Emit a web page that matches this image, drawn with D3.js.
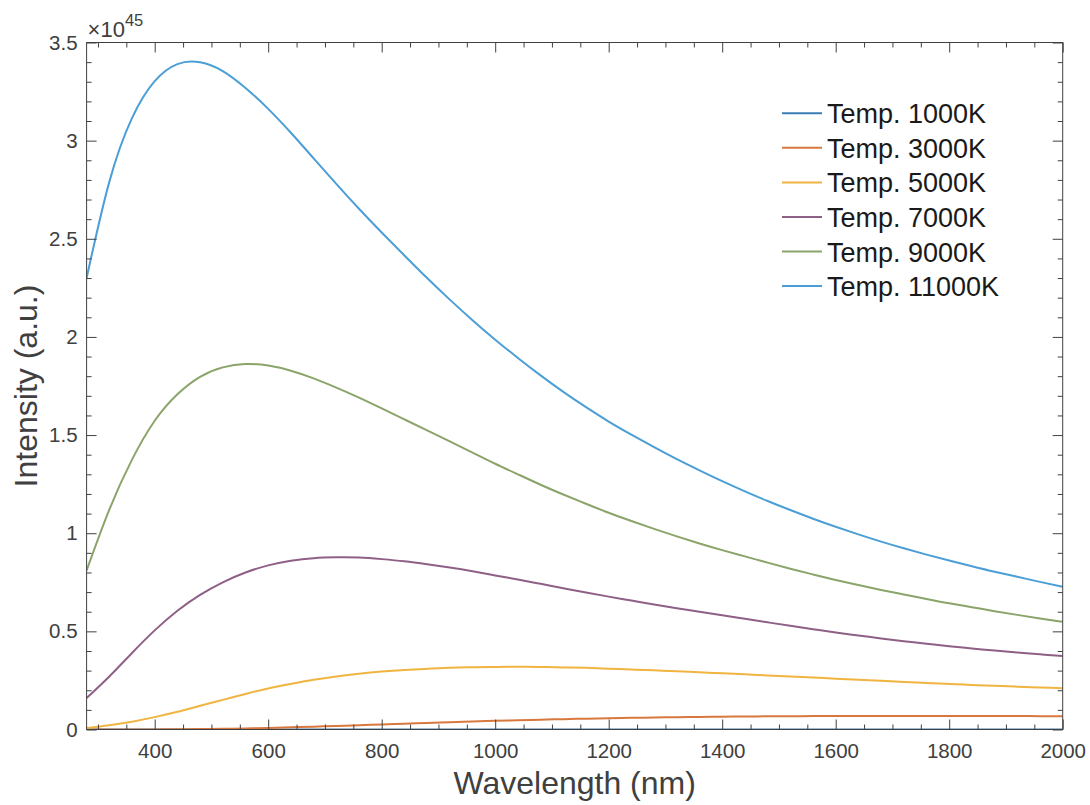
<!DOCTYPE html>
<html>
<head>
<meta charset="utf-8">
<script src="https://cdn.jsdelivr.net/npm/d3@7"></script>
<style>
  html, body { margin: 0; padding: 0; background: #ffffff; }
  svg { display: block; font-family: "Liberation Sans", Arial, Helvetica, sans-serif; }
</style>
</head>
<body>
<svg id="chart" width="1090" height="805"></svg>
<script>
// Spectral intensity (units of 1e45, a.u.) versus wavelength in nm, sampled every 40 nm
const wavelengths = [280, 320, 360, 400, 440, 480, 520, 560, 600, 640, 680, 720, 760, 800, 840, 880, 920, 960,
                     1000, 1040, 1080, 1120, 1160, 1200, 1240, 1280, 1320, 1360, 1400, 1440, 1480, 1520, 1560,
                     1600, 1640, 1680, 1720, 1760, 1800, 1840, 1880, 1920, 1960, 2000];

const temp1000K  = [0, 0, 0, 0, 0, 0, 0, 0, 0, 0, 0, 0, 0, 0, 0, 0, 0, 0,
                    0.00001, 0.00001, 0.00002, 0.00002, 0.00003, 0.00003, 0.00004, 0.00005, 0.00006, 0.00007, 0.00008,
                    0.0001, 0.00011, 0.00013, 0.00015, 0.00017, 0.0002, 0.00022, 0.00025, 0.00028, 0.00031, 0.00034,
                    0.00038, 0.00041, 0.00045, 0.0005];
const temp3000K  = [0, 0.0001, 0.0002, 0.0005, 0.0011, 0.0021, 0.0036, 0.0056, 0.0082, 0.0112, 0.0146, 0.0182,
                    0.022, 0.026, 0.0298, 0.0336, 0.0373, 0.0408, 0.0441, 0.0472, 0.05, 0.0527, 0.0551, 0.0573,
                    0.0593, 0.061, 0.0626, 0.064, 0.0652, 0.0662, 0.0671, 0.0678, 0.0684, 0.0688, 0.0691, 0.0693,
                    0.0694, 0.0694, 0.0693, 0.0691, 0.0688, 0.0685, 0.0681, 0.0677];
const temp5000K  = [0.008, 0.022, 0.04, 0.063, 0.09, 0.121, 0.151, 0.181, 0.209, 0.232, 0.253, 0.27, 0.284,
                    0.295, 0.303, 0.309, 0.314, 0.317, 0.319, 0.3195, 0.3185, 0.3165, 0.314, 0.31, 0.3058, 0.3013,
                    0.2966, 0.2916, 0.2865, 0.281, 0.2755, 0.27, 0.2645, 0.259, 0.2535, 0.248, 0.2425, 0.2372,
                    0.232, 0.2272, 0.2225, 0.218, 0.214, 0.21];
const temp7000K  = [0.16, 0.27, 0.39, 0.505, 0.605, 0.686, 0.75, 0.8, 0.836, 0.86, 0.873, 0.877, 0.876, 0.868,
                    0.857, 0.842, 0.825, 0.806, 0.785, 0.764, 0.742, 0.72, 0.698, 0.677, 0.657, 0.637, 0.618, 0.6,
                    0.582, 0.564, 0.546, 0.528, 0.511, 0.494, 0.479, 0.464, 0.45, 0.437, 0.424, 0.413, 0.402,
                    0.392, 0.383, 0.374];
const temp9000K  = [0.81, 1.12, 1.375, 1.573, 1.708, 1.797, 1.845, 1.862, 1.854, 1.828, 1.789, 1.742, 1.691,
                    1.636, 1.58, 1.524, 1.468, 1.411, 1.354, 1.3, 1.247, 1.197, 1.15, 1.104, 1.062, 1.022, 0.984,
                    0.948, 0.914, 0.882, 0.85, 0.819, 0.79, 0.762, 0.736, 0.711, 0.688, 0.665, 0.643, 0.623,
                    0.603, 0.584, 0.566, 0.549];
const temp11000K = [2.30, 2.79, 3.115, 3.303, 3.39, 3.399, 3.354, 3.268, 3.162, 3.04, 2.91, 2.78, 2.653, 2.532,
                    2.415, 2.30, 2.19, 2.085, 1.986, 1.893, 1.804, 1.72, 1.642, 1.569, 1.502, 1.438, 1.377, 1.32,
                    1.265, 1.213, 1.164, 1.118, 1.074, 1.033, 0.994, 0.957, 0.923, 0.891, 0.861, 0.832, 0.804,
                    0.778, 0.752, 0.727];

const seriesNames  = ["Temp. 1000K", "Temp. 3000K", "Temp. 5000K", "Temp. 7000K", "Temp. 9000K", "Temp. 11000K"];
const seriesValues = [temp1000K, temp3000K, temp5000K, temp7000K, temp9000K, temp11000K];
const seriesColors = ["#3a7cb4", "#d8783e", "#f0b440", "#8f6086", "#8ba46a", "#4b9fd6"];

const xTickValues  = [400, 600, 800, 1000, 1200, 1400, 1600, 1800, 2000];
const yTickValues  = [0, 0.5, 1, 1.5, 2, 2.5, 3, 3.5];
const yTickLabels  = ["0", "0.5", "1", "1.5", "2", "2.5", "3", "3.5"];
const xDomain = [280, 2000];
const yDomain = [0, 3.5];
const exponentBase = "\u00D710";
const exponentPower = "45";
const xTitle = "Wavelength (nm)";
const yTitle = "Intensity (a.u.)";

// Layout
const plot = { left: 86.6, right: 1062.7, top: 42.5, bottom: 729.5 };
const axisColor = "#404040";
const majorLen = 10, minorLen = 5;

const svg = d3.select("#chart");
const x = d3.scaleLinear().domain(xDomain).range([plot.left, plot.right]);
const y = d3.scaleLinear().domain(yDomain).range([plot.bottom, plot.top]);

const xMinor = d3.range(300, 2001, 50).filter(v => !xTickValues.includes(v));
const yMinor = d3.range(1, 35).map(i => i / 10).filter(v => !yTickValues.some(t => Math.abs(t - v) < 1e-9));

svg.append("defs").append("clipPath").attr("id", "plotClip")
  .append("rect")
  .attr("x", plot.left).attr("y", plot.top)
  .attr("width", plot.right - plot.left).attr("height", plot.bottom - plot.top);

// Data lines (smooth spline through the sampled values)
const line = d3.line()
  .x(d => x(d[0]))
  .y(d => y(d[1]))
  .curve(d3.curveNatural);

const lines = svg.append("g").attr("clip-path", "url(#plotClip)");
seriesValues.forEach((vals, i) => {
  lines.append("path")
    .datum(wavelengths.map((w, j) => [w, vals[j]]))
    .attr("fill", "none")
    .attr("stroke", seriesColors[i])
    .attr("stroke-width", 2)
    .attr("stroke-linejoin", "round")
    .attr("d", line);
});

// Axes: ticks pointing inward on all four sides (boxed frame)
function styleAxis(g) {
  g.select(".domain").remove();
  g.selectAll(".tick line").attr("stroke", axisColor).attr("stroke-width", 1);
  g.selectAll(".tick text")
    .attr("fill", axisColor)
    .style("font-size", "20.5px")
    .style("font-family", "'Liberation Sans', Arial, Helvetica, sans-serif");
}

// bottom (labels) and top
svg.append("g").attr("transform", `translate(0,${plot.bottom})`)
  .call(d3.axisBottom(x).tickValues(xTickValues).tickSize(-majorLen).tickFormat(d3.format("d")))
  .call(styleAxis)
  .call(g => g.selectAll(".tick text").attr("dy", "0.71em").attr("y", 14));
svg.append("g").attr("transform", `translate(0,${plot.bottom})`)
  .call(d3.axisBottom(x).tickValues(xMinor).tickSize(-minorLen).tickFormat(""))
  .call(styleAxis);
svg.append("g").attr("transform", `translate(0,${plot.top})`)
  .call(d3.axisTop(x).tickValues(xTickValues).tickSize(-majorLen).tickFormat(""))
  .call(styleAxis);
svg.append("g").attr("transform", `translate(0,${plot.top})`)
  .call(d3.axisTop(x).tickValues(xMinor).tickSize(-minorLen).tickFormat(""))
  .call(styleAxis);

// left (labels) and right
svg.append("g").attr("transform", `translate(${plot.left},0)`)
  .call(d3.axisLeft(y).tickValues(yTickValues).tickSize(-majorLen)
        .tickFormat((d, i) => yTickLabels[i]))
  .call(styleAxis)
  .call(g => g.selectAll(".tick text").attr("x", -9));
svg.append("g").attr("transform", `translate(${plot.left},0)`)
  .call(d3.axisLeft(y).tickValues(yMinor).tickSize(-minorLen).tickFormat(""))
  .call(styleAxis);
svg.append("g").attr("transform", `translate(${plot.right},0)`)
  .call(d3.axisRight(y).tickValues(yTickValues).tickSize(-majorLen).tickFormat(""))
  .call(styleAxis);
svg.append("g").attr("transform", `translate(${plot.right},0)`)
  .call(d3.axisRight(y).tickValues(yMinor).tickSize(-minorLen).tickFormat(""))
  .call(styleAxis);

// Frame
svg.append("rect")
  .attr("x", plot.left).attr("y", plot.top)
  .attr("width", plot.right - plot.left).attr("height", plot.bottom - plot.top)
  .attr("fill", "none").attr("stroke", axisColor).attr("stroke-width", 1);

// Exponent marker above the y axis
const expo = svg.append("text")
  .attr("x", plot.left + 1).attr("y", 37)
  .attr("fill", axisColor)
  .style("font-size", "22px");
expo.append("tspan").text(exponentBase);
expo.append("tspan").attr("dy", -11).style("font-size", "16.5px").text(exponentPower);

// Axis titles
svg.append("text")
  .attr("x", (plot.left + plot.right) / 2).attr("y", 794)
  .attr("text-anchor", "middle")
  .attr("fill", axisColor)
  .style("font-size", "32px")
  .text(xTitle);
svg.append("text")
  .attr("transform", `translate(37,${(plot.top + plot.bottom) / 2}) rotate(-90)`)
  .attr("text-anchor", "middle")
  .attr("fill", axisColor)
  .style("font-size", "32px")
  .text(yTitle);

// Legend
const legend = svg.append("g").attr("transform", "translate(782,113.3)");
seriesNames.forEach((name, i) => {
  const row = legend.append("g").attr("transform", `translate(0,${i * 34.55})`);
  row.append("line")
    .attr("x1", 0).attr("x2", 40).attr("y1", 0).attr("y2", 0)
    .attr("stroke", seriesColors[i]).attr("stroke-width", 2);
  row.append("text")
    .attr("x", 45).attr("y", 10)
    .attr("fill", "#1a1a1a")
    .style("font-size", "27px")
    .text(name);
});
</script>
</body>
</html>
